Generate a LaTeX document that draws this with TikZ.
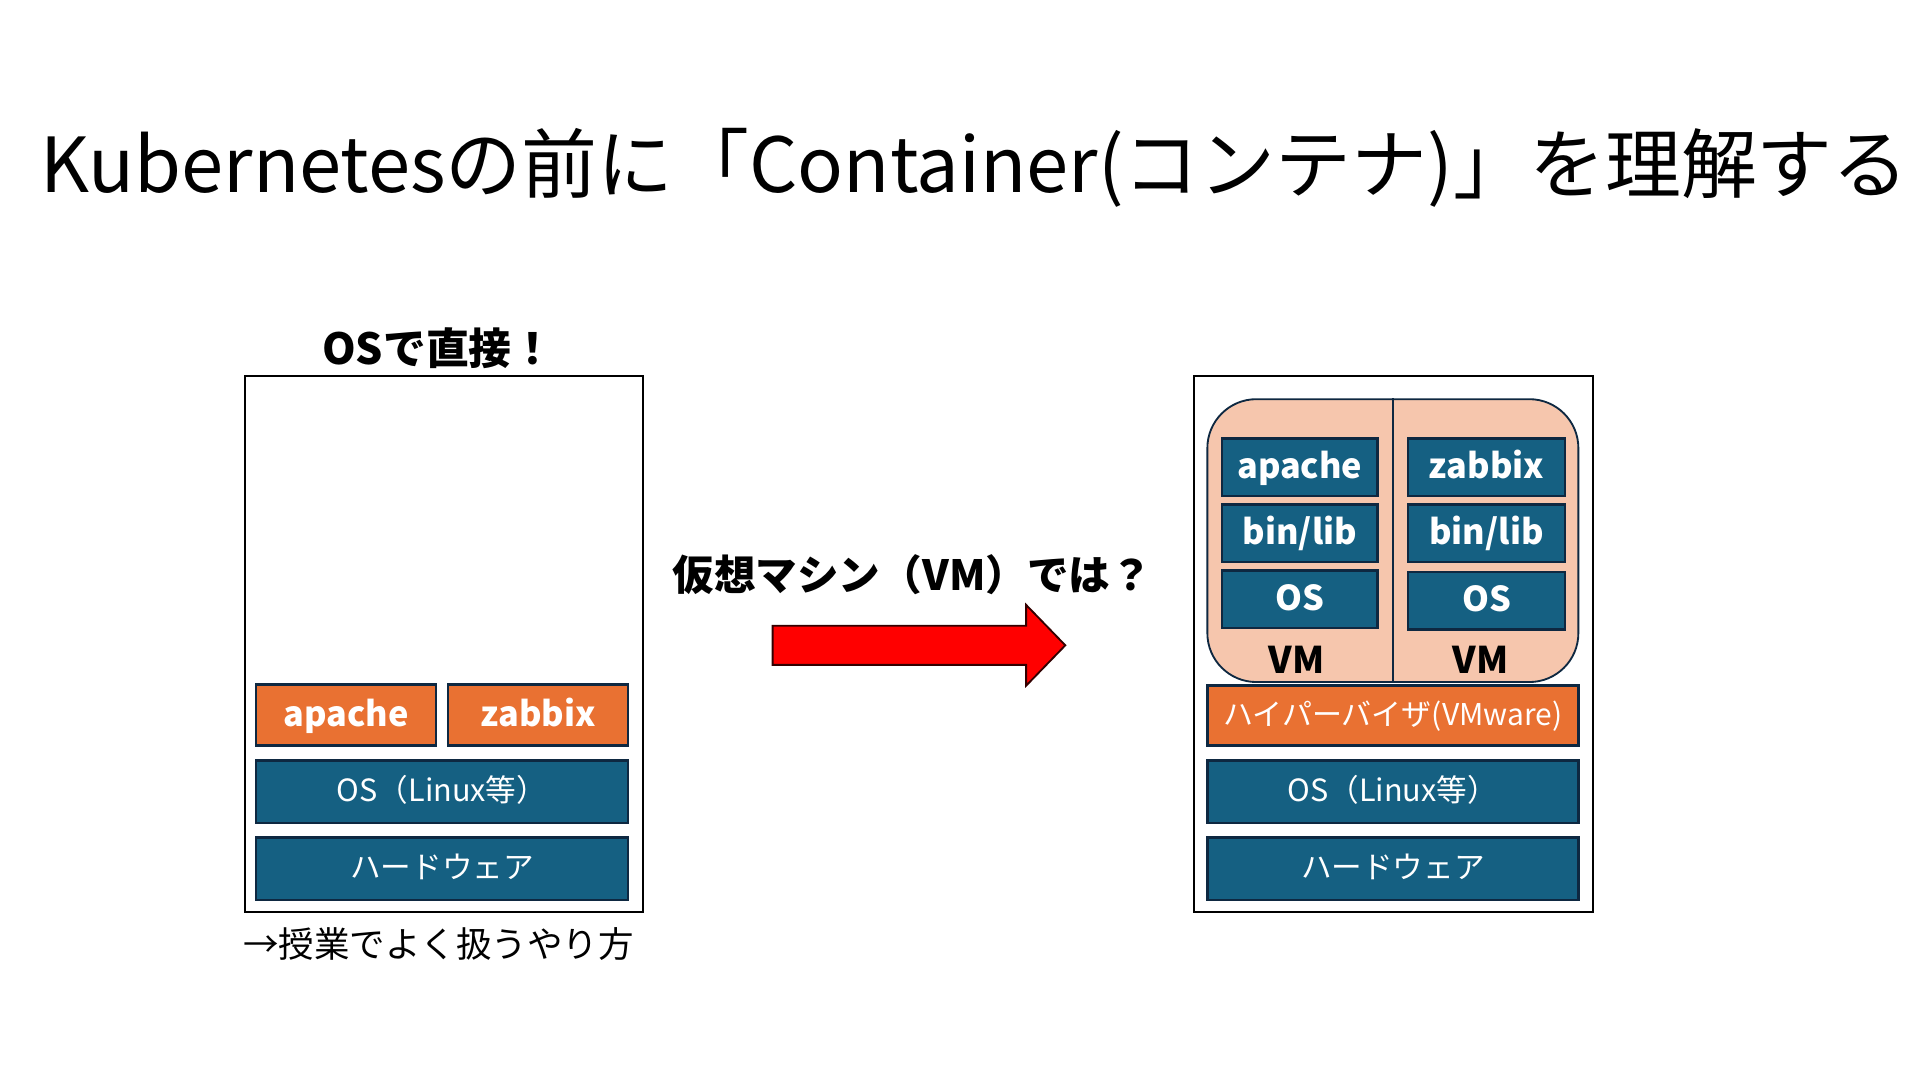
\documentclass[tikz,border=0pt]{standalone}
\usepackage{fontspec}
\setmainfont{Noto Sans CJK JP}
\definecolor{layerBlue}{HTML}{156082}
\definecolor{layerOrange}{HTML}{E97132}
\definecolor{layerEdge}{HTML}{0E2841}
\definecolor{vmPeach}{HTML}{F6C6AD}
\definecolor{arrowRed}{HTML}{FF0000}

\begin{document}
\begin{tikzpicture}
[x=1pt,y=-1pt,
  frameDecorate/.style={shape=rectangle,draw=black,line width=2pt,inner sep=0pt},
  layerDecorate/.style={shape=rectangle,draw=layerEdge,line width=2pt,inner sep=0pt,text=white},
  vmDecorate/.style={shape=rectangle,fill=vmPeach,draw=layerEdge,line width=1.5pt,rounded corners=40pt,inner sep=0pt},
  labelDecorate/.style={font=\fontsize{35}{40}\selectfont\bfseries,inner sep=0pt}]
\useasboundingbox[fill=white] (0,0) rectangle (1568,882);
%% title
\node (title) at (796,157) [anchor=base,inner sep=0pt,font=\fontsize{62}{70}\selectfont]
  {Kubernetesの前に「Container(コンテナ)」を理解する};
%% frames and headings
\node (leftFrame) at (362.5,526) [frameDecorate,minimum width=325pt,minimum height=438pt] {};
\node (rightFrame) at (1138,526) [frameDecorate,minimum width=326pt,minimum height=438pt] {};
\node (leftHeading) at (358,284) [labelDecorate] {OSで直接！};
\node (middleHeading) at (745,469) [labelDecorate,font=\fontsize{34}{40}\selectfont\bfseries] {仮想マシン（VM）では？};
\node (leftNote) at (358,771) [inner sep=0pt,font=\fontsize{29}{34}\selectfont] {→授業でよく扱うやり方};
%% virtual machines
\node (vmArea) at (1137.5,441.5) [vmDecorate,minimum width=303pt,minimum height=231pt] {};
\draw[layerEdge,line width=1.5pt] (vmArea.north) -- (vmArea.south);
\node (vmOneLabel) at (1059,539) [labelDecorate,font=\fontsize{30}{34}\selectfont\bfseries] {VM};
\node (vmTwoLabel) at (1209,539) [labelDecorate,font=\fontsize{30}{34}\selectfont\bfseries] {VM};
%% layers
\foreach \nodename/\x/\y/\w/\h/\colour/\size/\weight/\boxtext in {
  leftApache/209/559/147/50/layerOrange/28/\bfseries/apache,
  leftZabbix/366/559/147/50/layerOrange/28/\bfseries/zabbix,
  leftOs/209/621/304/51/layerBlue/25/\mdseries/OS（Linux等）,
  leftHardware/209/684/304/51/layerBlue/25/\mdseries/ハードウェア,
  vmOneApache/998/358/127/47/layerBlue/28/\bfseries/apache,
  vmOneLib/998/412/127/47/layerBlue/28/\bfseries/{bin/lib},
  vmOneOs/998/466/127/47/layerBlue/28/\bfseries/OS,
  vmTwoZabbix/1150/358/128/47/layerBlue/28/\bfseries/zabbix,
  vmTwoLib/1150/412/128/47/layerBlue/28/\bfseries/{bin/lib},
  vmTwoOs/1150/467/128/47/layerBlue/28/\bfseries/OS,
  hypervisor/986/560/303/49/layerOrange/24.5/\mdseries/ハイパーバイザ(VMware),
  rightOs/986/621/303/51/layerBlue/25/\mdseries/OS（Linux等）,
  rightHardware/986/684/303/51/layerBlue/25/\mdseries/ハードウェア}
{
  \node (\nodename) at (\x+\w/2,\y+\h/2)
    [layerDecorate,fill=\colour,minimum width=\w pt,minimum height=\h pt,
     font=\fontsize{\size}{\size}\selectfont\weight,text height={0.8*\size*1pt},text depth={0.14*\size*1pt}]
    {\boxtext};
}
%% arrow
\draw[fill=arrowRed,draw=black!80!red,line width=1.5pt]
  (631,511) -- (838,511) -- (838,494) -- (870,527) -- (838,560) -- (838,543) -- (631,543) -- cycle;
\end{tikzpicture}
\end{document}
